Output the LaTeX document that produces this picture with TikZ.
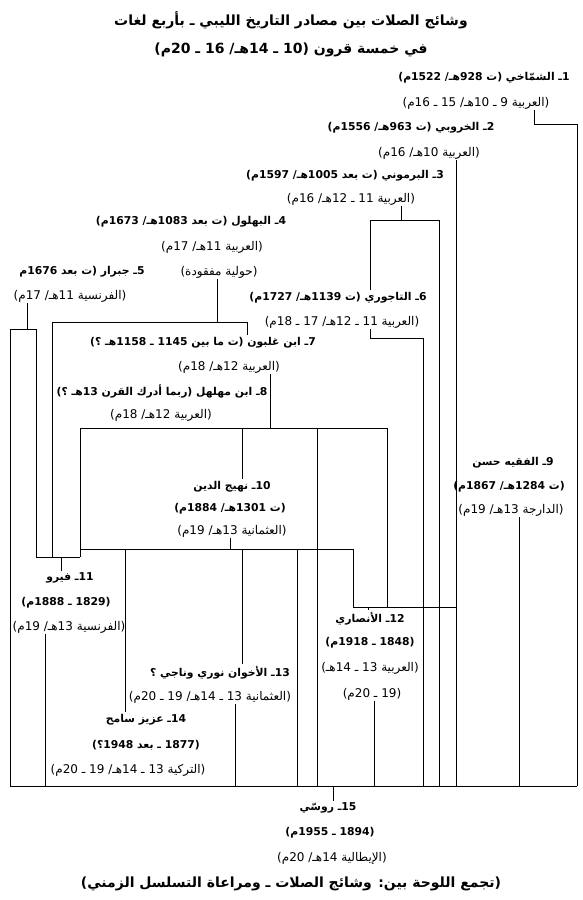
\documentclass[tikz,border=0pt]{standalone}
\usepackage{fontspec}
\usepackage{tikz}
\usetikzlibrary{positioning}
\TeXXeTstate=1
\newfontfamily\arabicfont[Script=Arabic]{DejaVu Sans}
\newcommand{\rtl}[1]{\beginR #1\endR}
\tikzset{
  headline/.style={font=\arabicfont\bfseries\fontsize{14}{16}\selectfont,inner sep=1pt},
  who/.style={font=\arabicfont\bfseries\fontsize{10.8}{12}\selectfont,inner xsep=0pt,inner ysep=2pt},
  info/.style={font=\arabicfont\fontsize{12}{13}\selectfont,inner xsep=0pt,inner ysep=1pt},
  link/.style={draw=black,line width=0.9pt}
}
\begin{document}
\begin{tikzpicture}[x=1pt,y=-1pt]
\useasboundingbox (0,0) rectangle (583,900);
% titles
\node[headline] (t1) at (291,20) {\rtl{وشائج الصلات بين مصادر التاريخ الليبي ـ بأربع لغات}};
\node[headline] (t2) at (291,50) {\rtl{في خمسة قرون (10 ـ 14هـ/ 16 ـ 20م)}};
% sources
\node[who] (n1) at (484,78) {\rtl{1ـ الشمّاخي (ت 928هـ/ 1522م)}};
\node[info] (n1b) at (476,103) {\rtl{(العربية 9 ـ 10هـ/ 15 ـ 16م)}};
\node[who] (n2) at (411,128) {\rtl{2ـ الخروبي (ت 963هـ/ 1556م)}};
\node[info] (n2b) at (429,153) {\rtl{(العربية 10هـ/ 16م)}};
\node[who] (n3) at (345,176) {\rtl{3ـ البرموني (ت بعد 1005هـ/ 1597م)}};
\node[info] (n3b) at (351,199) {\rtl{(العربية 11 ـ 12هـ/ 16م)}};
\node[who] (n4) at (191,222) {\rtl{4ـ البهلول (ت بعد 1083هـ/ 1673م)}};
\node[info] (n4b) at (212,247) {\rtl{(العربية 11هـ/ 17م)}};
\node[info] (nc) at (219,272) {\rtl{(حولية مفقودة)}};
\node[who] (n5) at (82,272) {\rtl{5ـ جبرار (ت بعد 1676م}};
\node[info] (n5b) at (70,296) {\rtl{(الفرنسية 11هـ/ 17م)}};
\node[who] (n6) at (338,298) {\rtl{6ـ التاجوري (ت 1139هـ/ 1727م)}};
\node[info] (n6b) at (342,322) {\rtl{(العربية 11 ـ 12هـ/ 17 ـ 18م)}};
\node[who] (n7) at (203,343) {\rtl{7ـ ابن غلبون (ت ما بين 1145 ـ 1158هـ ؟)}};
\node[info] (n7b) at (229,367) {\rtl{(العربية 12هـ/ 18م)}};
\node[who] (n8) at (162,391) {\rtl{8ـ ابن مهلهل (ربما أدرك القرن 13هـ ؟)}};
\node[info] (n8b) at (161,415) {\rtl{(العربية 12هـ/ 18م)}};
\node[who] (n9) at (513,463) {\rtl{9ـ الفقيه حسن}};
\node[who] (n9b) at (509,487) {\rtl{(ت 1284هـ/ 1867م)}};
\node[info] (n9c) at (511,510) {\rtl{(الدارجة 13هـ/ 19م)}};
\node[who] (n10) at (232,487) {\rtl{10ـ نهيج الدين}};
\node[who] (n10b) at (230,509) {\rtl{(ت 1301هـ/ 1884م)}};
\node[info] (n10c) at (232,531) {\rtl{(العثمانية 13هـ/ 19م)}};
\node[who] (n11) at (70,578) {\rtl{11ـ فيرو}};
\node[who] (n11b) at (66,603) {\rtl{(1829 ـ 1888م)}};
\node[info] (n11c) at (69,627) {\rtl{(الفرنسية 13هـ/ 19م)}};
\node[who] (n12) at (370,619) {\rtl{12ـ الأنصاري}};
\node[who] (n12b) at (370,643) {\rtl{(1848 ـ 1918م)}};
\node[info] (n12c) at (370,668) {\rtl{(العربية 13 ـ 14هـ)}};
\node[info] (n12d) at (372,694) {\rtl{(19 ـ 20م)}};
\node[who] (n13) at (220,673) {\rtl{13ـ الأخوان نوري وناجي ؟}};
\node[info] (n13b) at (210,697) {\rtl{(العثمانية 13 ـ 14هـ/ 19 ـ 20م)}};
\node[who] (n14) at (146,720) {\rtl{14ـ عزيز سامح}};
\node[who] (n14b) at (146,745) {\rtl{(1877 ـ بعد 1948؟)}};
\node[info] (n14c) at (128,770) {\rtl{(التركية 13 ـ 14هـ/ 19 ـ 20م)}};
\node[who] (n15) at (328,808) {\rtl{15ـ روسّي}};
\node[who] (n15b) at (330,833) {\rtl{(1894 ـ 1955م)}};
\node[info] (n15c) at (332,858) {\rtl{(الإيطالية 14هـ/ 20م)}};
\node[headline] (cap) at (291,884) {\rtl{(تجمع اللوحة بين: وشائج الصلات ـ ومراعاة التسلسل الزمني)}};
% bus points
\coordinate (bot) at (0,786);
\coordinate (b1) at (534,124);
\coordinate (b1r) at (577,124);
\coordinate (b2) at (456,0);
\coordinate (b3) at (401,220);
\coordinate (b3l) at (370,220);
\coordinate (b3r) at (439,220);
\coordinate (b6l) at (370,338);
\coordinate (b6r) at (423,338);
\coordinate (b5) at (27,329);
\coordinate (b5l) at (10,329);
\coordinate (b5r) at (36,329);
\coordinate (bc) at (217,322);
\coordinate (bcl) at (52,322);
\coordinate (bcr) at (247,322);
\coordinate (b7) at (270,428);
\coordinate (b7l) at (80,428);
\coordinate (b7r) at (387,428);
\coordinate (b11) at (61,557);
\coordinate (b10) at (230,549);
\coordinate (b10l) at (80,549);
\coordinate (b10r) at (353,549);
\coordinate (b12) at (368,607);
\coordinate (b12r) at (456,607);
\coordinate (b15) at (333,786);
\coordinate (d14) at (125,0);
\coordinate (d13) at (242,0);
\coordinate (d10) at (297,0);
\coordinate (d7) at (317,0);
\coordinate (d11) at (45,0);
\coordinate (d13b) at (235,0);
\coordinate (d12) at (374,0);
\coordinate (d9) at (519,0);
% links
\draw[link] (n1b.south -| b1) -- (b1) -- (b1r) -- (b1r |- bot);
\draw[link] (n2b.south -| b2) -- (b2 |- bot);
\draw[link] (n3b.south -| b3) -- (b3);
\draw[link] (n6.north -| b3l) -- (b3l) -- (b3r) -- (b3r |- bot);
\draw[link] (n6b.south -| b6l) -- (b6l) -- (b6r) -- (b6r |- bot);
\draw[link] (n5b.south -| b5) -- (b5);
\draw[link] (b5l |- bot) -- (b5l) -- (b5r) -- (b5r |- b11) -- (b7l |- b11);
\draw[link] (b11) -- (n11.north -| b11);
\draw[link] (nc.south -| bc) -- (bc);
\draw[link] (b11 -| bcl) -- (bcl) -- (bcr) -- (n7.north -| bcr);
\draw[link] (n7b.south -| b7) -- (b7);
\draw[link] (b11 -| b7l) -- (b7l) -- (b7r) -- (b7r |- b12);
\draw[link] (b7l -| d13) -- (n10.north -| d13);
\draw[link] (b7l -| d7) -- (d7 |- bot);
\draw[link] (n10c.south -| b10) -- (b10);
\draw[link] (b10l) -- (b10r) -- (b10r |- b12) -- (b12r);
\draw[link] (b10l -| d14) -- (n14.north -| d14);
\draw[link] (b10l -| d13) -- (n13.north -| d13);
\draw[link] (b10l -| d10) -- (d10 |- bot);
\draw[link] (b12) -- (n12.north -| b12);
\draw[link] (n11c.south -| d11) -- (d11 |- bot);
\draw[link] (n13b.south -| d13b) -- (d13b |- bot);
\draw[link] (n12d.south -| d12) -- (d12 |- bot);
\draw[link] (n9c.south -| d9) -- (d9 |- bot);
\draw[link] (b5l |- bot) -- (b1r |- bot);
\draw[link] (b15) -- (n15.north -| b15);
\end{tikzpicture}
\end{document}
